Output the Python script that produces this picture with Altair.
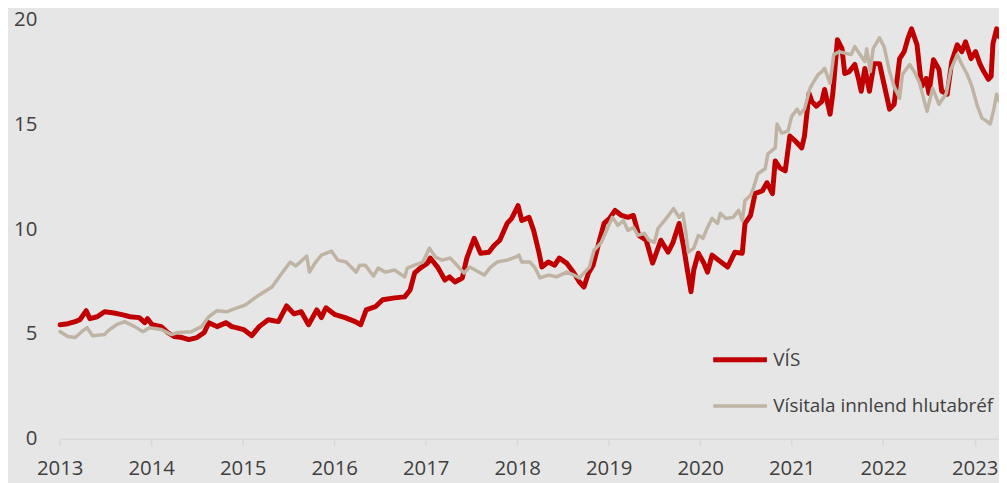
import altair as alt
import pandas as pd

series_names = ["VÍS", "Vísitala innlend hlutabréf"]
x_ticks = list(range(2013, 2024))
y_ticks = [0, 5, 10, 15, 20]

vis_year = [2013.005, 2013.09, 2013.17, 2013.22, 2013.29, 2013.33, 2013.41, 2013.49, 2013.58, 2013.68,
            2013.77, 2013.87, 2013.93, 2013.96, 2014.01, 2014.11, 2014.18, 2014.25, 2014.34, 2014.41,
            2014.50, 2014.58, 2014.63, 2014.72, 2014.82, 2014.88, 2014.93, 2015.01, 2015.10, 2015.18,
            2015.28, 2015.39, 2015.48, 2015.56, 2015.64, 2015.72, 2015.81, 2015.86, 2015.91, 2016.01,
            2016.12, 2016.23, 2016.29, 2016.35, 2016.45, 2016.53, 2016.66, 2016.77, 2016.83, 2016.88,
            2016.94, 2017.02, 2017.05, 2017.13, 2017.21, 2017.26, 2017.32, 2017.40, 2017.45, 2017.53,
            2017.60, 2017.69, 2017.75, 2017.81, 2017.89, 2017.94, 2018.01, 2018.05, 2018.13, 2018.18,
            2018.24, 2018.27, 2018.34, 2018.41, 2018.46, 2018.54, 2018.62, 2018.68, 2018.73, 2018.78,
            2018.83, 2018.90, 2018.95, 2019.01, 2019.07, 2019.14, 2019.21, 2019.27, 2019.33, 2019.41,
            2019.48, 2019.54, 2019.57, 2019.65, 2019.70, 2019.77, 2019.82, 2019.86, 2019.90, 2019.93,
            2019.98, 2020.04, 2020.08, 2020.13, 2020.20, 2020.30, 2020.38, 2020.46, 2020.49, 2020.55,
            2020.60, 2020.68, 2020.73, 2020.79, 2020.82, 2020.87, 2020.93, 2020.98, 2021.04, 2021.11,
            2021.14, 2021.19, 2021.22, 2021.27, 2021.33, 2021.36, 2021.42, 2021.45, 2021.50, 2021.55,
            2021.58, 2021.63, 2021.69, 2021.73, 2021.76, 2021.80, 2021.85, 2021.90, 2021.96, 2022.01,
            2022.07, 2022.12, 2022.18, 2022.23, 2022.27, 2022.31, 2022.37, 2022.42, 2022.47, 2022.50,
            2022.55, 2022.61, 2022.64, 2022.70, 2022.75, 2022.81, 2022.86, 2022.90, 2022.96, 2023.01,
            2023.06, 2023.10, 2023.15, 2023.18, 2023.20, 2023.24, 2023.27]
vis_value = [5.44, 5.49, 5.59, 5.68, 6.11, 5.73, 5.82, 6.06, 6.01, 5.92,
             5.82, 5.78, 5.54, 5.73, 5.44, 5.35, 5.07, 4.88, 4.83, 4.73,
             4.83, 5.07, 5.54, 5.35, 5.54, 5.35, 5.30, 5.21, 4.92, 5.35,
             5.68, 5.59, 6.34, 5.96, 6.06, 5.44, 6.15, 5.78, 6.25, 5.92,
             5.78, 5.59, 5.44, 6.15, 6.30, 6.63, 6.72, 6.77, 7.10, 7.91,
             8.14, 8.38, 8.62, 8.19, 7.57, 7.72, 7.48, 7.67, 8.62, 9.56,
             8.85, 8.90, 9.23, 9.47, 10.27, 10.51, 11.12, 10.41, 10.56, 9.94,
             8.85, 8.19, 8.43, 8.28, 8.62, 8.38, 7.91, 7.48, 7.24, 7.91,
             8.28, 9.47, 10.27, 10.51, 10.89, 10.65, 10.56, 10.65, 9.70, 9.47,
             8.38, 9.09, 9.47, 8.90, 9.33, 10.27, 9.14, 8.05, 7.01, 8.05,
             8.85, 8.38, 7.95, 8.76, 8.52, 8.19, 8.90, 8.85, 10.27, 10.65,
             11.69, 11.83, 12.21, 11.69, 13.25, 12.92, 12.78, 14.44, 14.20, 13.87,
             14.44, 16.47, 16.09, 15.86, 16.09, 16.66, 15.48, 16.47, 19.03, 18.60,
             17.42, 17.51, 17.85, 17.18, 16.57, 17.66, 16.57, 17.89, 17.89, 16.90,
             15.72, 15.95, 18.13, 18.46, 19.08, 19.55, 18.79, 16.80, 17.18, 16.47,
             18.08, 17.61, 16.57, 16.43, 17.99, 18.79, 18.46, 18.93, 18.13, 18.46,
             17.85, 17.51, 17.14, 17.28, 18.84, 19.55, 19.17]

idx_year = [2013.005, 2013.09, 2013.17, 2013.24, 2013.30, 2013.36, 2013.49, 2013.53, 2013.62, 2013.71,
            2013.82, 2013.91, 2013.98, 2014.11, 2014.22, 2014.29, 2014.44, 2014.55, 2014.63, 2014.72,
            2014.83, 2014.88, 2015.03, 2015.18, 2015.32, 2015.43, 2015.52, 2015.58, 2015.70, 2015.73,
            2015.79, 2015.86, 2015.97, 2016.04, 2016.13, 2016.24, 2016.28, 2016.34, 2016.43, 2016.48,
            2016.56, 2016.66, 2016.77, 2016.80, 2016.88, 2016.97, 2017.04, 2017.11, 2017.18, 2017.27,
            2017.37, 2017.42, 2017.48, 2017.54, 2017.64, 2017.71, 2017.78, 2017.89, 2017.98, 2018.02,
            2018.05, 2018.14, 2018.19, 2018.25, 2018.34, 2018.43, 2018.54, 2018.62, 2018.68, 2018.79,
            2018.84, 2018.92, 2019.01, 2019.04, 2019.10, 2019.16, 2019.21, 2019.27, 2019.32, 2019.39,
            2019.44, 2019.50, 2019.54, 2019.63, 2019.71, 2019.77, 2019.81, 2019.84, 2019.87, 2019.93,
            2019.98, 2020.03, 2020.08, 2020.13, 2020.19, 2020.22, 2020.28, 2020.36, 2020.42, 2020.46,
            2020.49, 2020.55, 2020.58, 2020.63, 2020.71, 2020.74, 2020.82, 2020.84, 2020.89, 2020.96,
            2021.00, 2021.06, 2021.09, 2021.14, 2021.20, 2021.23, 2021.29, 2021.33, 2021.36, 2021.42,
            2021.46, 2021.52, 2021.60, 2021.65, 2021.69, 2021.74, 2021.80, 2021.82, 2021.86, 2021.89,
            2021.96, 2022.01, 2022.07, 2022.12, 2022.18, 2022.21, 2022.29, 2022.34, 2022.40, 2022.45,
            2022.48, 2022.54, 2022.61, 2022.69, 2022.74, 2022.81, 2022.86, 2022.92, 2022.97, 2023.03,
            2023.08, 2023.13, 2023.17, 2023.21, 2023.24, 2023.27]
idx_value = [5.11, 4.88, 4.83, 5.11, 5.30, 4.92, 4.97, 5.16, 5.44, 5.59,
             5.35, 5.11, 5.30, 5.21, 4.97, 5.07, 5.11, 5.35, 5.82, 6.11,
             6.06, 6.15, 6.39, 6.86, 7.24, 7.91, 8.43, 8.24, 8.71, 7.95,
             8.38, 8.76, 8.95, 8.52, 8.43, 7.95, 8.28, 8.28, 7.76, 8.14,
             7.95, 8.05, 7.72, 8.14, 8.28, 8.43, 9.09, 8.66, 8.52, 8.62,
             8.14, 7.91, 8.19, 8.05, 7.81, 8.19, 8.43, 8.52, 8.66, 8.76,
             8.43, 8.43, 8.19, 7.67, 7.81, 7.72, 7.95, 7.81, 7.67, 8.19,
             8.99, 9.37, 10.27, 10.56, 10.18, 10.41, 9.94, 10.08, 9.70, 9.80,
             9.47, 9.37, 10.04, 10.51, 10.98, 10.56, 10.75, 9.94, 8.90, 9.09,
             9.70, 9.56, 10.08, 10.51, 10.27, 10.75, 10.51, 10.56, 10.89, 10.41,
             11.36, 11.60, 11.93, 12.64, 12.88, 13.59, 13.87, 15.01, 14.58, 14.67,
             15.38, 15.72, 15.48, 15.72, 16.71, 16.95, 17.37, 17.51, 17.66, 16.95,
             18.32, 18.46, 18.37, 18.32, 18.70, 18.37, 17.99, 18.60, 17.51, 18.60,
             19.12, 18.70, 17.51, 16.80, 16.24, 17.37, 17.85, 17.51, 16.95, 16.09,
             15.62, 16.71, 15.95, 16.47, 17.61, 18.32, 17.85, 17.37, 16.80, 15.86,
             15.29, 15.15, 15.01, 15.72, 16.43, 16.09]

df = pd.concat([
    pd.DataFrame({"year": vis_year, "value": vis_value, "series": series_names[0]}),
    pd.DataFrame({"year": idx_year, "value": idx_value, "series": series_names[1]}),
], ignore_index=True)

FONT = "Open Sans"
TXT = "#404040"

legend = alt.Legend(
    title=None, orient="none", legendX=655, legendY=313,
    symbolType="stroke", symbolSize=2916, labelFont=FONT, labelFontSize=19,
    labelColor=TXT, labelOffset=4, rowPadding=7, padding=0, labelLimit=400,
)

chart = alt.Chart(df).mark_line(strokeJoin="round", strokeCap="round").encode(
    x=alt.X("year:Q",
            scale=alt.Scale(domain=[2013, 2023.266], nice=False, zero=False),
            axis=alt.Axis(values=x_ticks, format="d", title=None, grid=False,
                          domainColor="#d9d9d9", domainWidth=1.5, tickColor="#d9d9d9",
                          tickWidth=1.5, tickSize=7, labelFont=FONT, labelFontSize=20.5,
                          labelColor=TXT, labelPadding=13, labelFlush=False)),
    y=alt.Y("value:Q",
            scale=alt.Scale(domain=[0, 20], nice=False),
            axis=alt.Axis(values=y_ticks, title=None, grid=False, domain=False, ticks=False,
                          labelFont=FONT, labelFontSize=20.5, labelColor=TXT, labelPadding=23)),
    color=alt.Color("series:N",
                    scale=alt.Scale(domain=series_names, range=["#C00000", "#BFB3A3"]),
                    legend=legend),
    strokeWidth=alt.StrokeWidth("series:N",
                                scale=alt.Scale(domain=series_names, range=[5, 3.5]),
                                legend=legend),
).properties(
    width=945, height=422,
    padding={"left": 52, "top": 10, "right": 0, "bottom": 45},
    autosize=alt.AutoSizeParams(type="none"),
    background="#E7E6E6",
).configure_view(stroke=None)

chart.save("out.html", embed_options={"renderer": "svg", "actions": False})
